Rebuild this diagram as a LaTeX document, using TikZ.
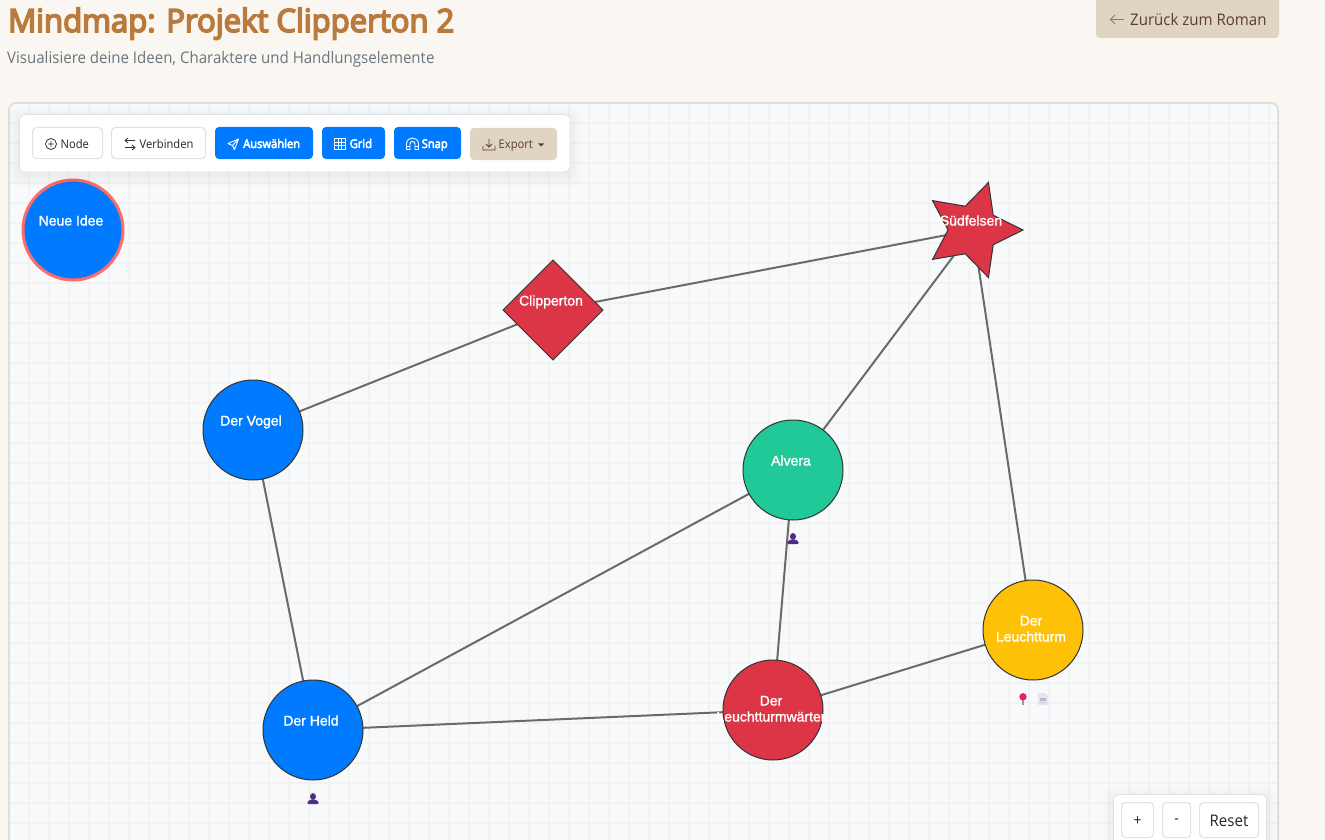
\documentclass[tikz,border=0pt]{standalone}
\usepackage{fontspec}
\setmainfont{Liberation Sans}
\newfontfamily\uifont[FakeStretch=0.93]{Open Sans}
\newfontfamily\uibold[FakeStretch=0.93,FakeBold=4]{Open Sans}
\newfontfamily\headfont[FakeStretch=0.94]{Open Sans}
\newfontfamily\titlefont[FakeStretch=0.97,FakeBold=5]{Open Sans}
\newfontfamily\labfont[FakeBold=1.5]{Liberation Sans}
\usetikzlibrary{shapes.geometric}
\definecolor{pagebg}{HTML}{FAF6F1}
\definecolor{panelbg}{HTML}{F8F9FA}
\definecolor{panelline}{HTML}{DEDEDC}
\definecolor{gridc}{HTML}{F1F2F2}
\definecolor{tan}{HTML}{E0D5C3}
\definecolor{brownt}{HTML}{5C3D2E}
\definecolor{titlec}{HTML}{B97A3C}
\definecolor{subc}{HTML}{6C757D}
\definecolor{bsblue}{HTML}{007BFF}
\definecolor{bsred}{HTML}{DC3545}
\definecolor{bsgreen}{HTML}{20C997}
\definecolor{bsyellow}{HTML}{FFC107}
\definecolor{edgec}{HTML}{6A6A6A}
\definecolor{nodeline}{HTML}{333333}
\definecolor{hilite}{HTML}{FF6B6B}
\definecolor{btnline}{HTML}{DEE2E6}
\definecolor{purp}{HTML}{4F2D87}
\definecolor{pinc}{HTML}{E91E63}
\definecolor{notec}{HTML}{E8E2F0}
\definecolor{notel}{HTML}{BFB8C8}
\definecolor{notem}{HTML}{CFC8D8}
\pgfdeclarelayer{gridlayer}
\pgfdeclarelayer{edgelayer}
\pgfsetlayers{gridlayer,edgelayer,main}
\tikzset{
  x=1pt,y=-1pt,
  circ/.style={circle,draw=nodeline,line width=1pt,minimum size=100pt,inner sep=0pt,outer sep=0pt},
  dia/.style={diamond,draw=nodeline,line width=1pt,fill=bsred,aspect=1,minimum size=100pt,inner sep=0pt,outer sep=0pt},
  starshape/.style={star,star points=5,star point ratio=2,shape border rotate=-90,draw=nodeline,line width=1pt,fill=bsred,minimum size=100pt,inner sep=0pt,outer sep=0pt},
  lab/.style={font=\labfont\fontsize{14}{16}\selectfont,text=white,align=center,inner sep=0pt,text height=10pt,text depth=3pt},
  edge/.style={draw=edgec,line width=2pt},
  btn/.style={draw=btnline,line width=1pt,fill=white,rounded corners=4pt},
  bluebtn/.style={fill=bsblue,rounded corners=4pt},
  tanbtn/.style={fill=tan,rounded corners=4pt},
  btxt/.style={font=\uifont\fontsize{12}{14}\selectfont,inner sep=0pt,anchor=base west,text=black!85},
  wtxt/.style={font=\uibold\fontsize{12}{14}\selectfont,inner sep=0pt,anchor=base west,text=white},
  ico/.style={line width=0.8pt,draw=black!80},
  wico/.style={line width=0.9pt,draw=white},
  softshadow/.style={fill=black,opacity=0.005,rounded corners=8pt},
}
\begin{document}
\begin{tikzpicture}
\useasboundingbox (0,0) rectangle (1325,840);
\begin{pgfonlayer}{gridlayer}
\fill[pagebg] (0,0) rectangle (1325,840);
% panel
\fill[panelline,rounded corners=8pt] (8,860) -- (8,102) -- (1279,102) -- (1279,860) -- cycle;
\fill[panelbg,rounded corners=6pt] (10,860) -- (10,104) -- (1277,104) -- (1277,860) -- cycle;
\foreach \x in {29,49,...,1269} \draw[gridc,line width=1.6pt] (\x,104) -- (\x,840);
\foreach \y in {123,143,...,840} \draw[gridc,line width=1.6pt] (10,\y) -- (1277,\y);
\end{pgfonlayer}

% header
\node[font=\titlefont\fontsize{32}{36}\selectfont,text=titlec,anchor=base west,inner sep=0pt] (title) at (8,32) {Mindmap: Projekt Clipperton 2};
\node[font=\headfont\fontsize{16}{18}\selectfont,text=subc,anchor=base west,inner sep=0pt] (subtitle) at (7,64) {Visualisiere deine Ideen, Charaktere und Handlungselemente};
\fill[tanbtn] (1096,-6) rectangle (1279,38);
\draw[brownt!70,line width=0.9pt] (1124,19.5) -- (1110.5,19.5) (1115,15) -- (1110.5,19.5) -- (1115,24);
\node[font=\headfont\fontsize{16}{18}\selectfont,text=brownt,anchor=base west,inner sep=0pt] (back) at (1130,25.5) {Zurück zum Roman};

% nodes
\node[circle,fill=bsblue,draw=hilite,line width=3pt,minimum size=100pt,inner sep=0pt,outer sep=0pt] (neu) at (73,230) {};
\node[circ,fill=bsblue] (vogel) at (253,430) {};
\node[circ,fill=bsblue] (held) at (313,730) {};
\node[circ,fill=bsgreen] (alvera) at (793,470) {};
\node[circ,fill=bsred] (waerter) at (773,710) {};
\node[circ,fill=bsyellow] (turm) at (1033,630) {};
\node[dia] (clip) at (553,310) {};
\node[starshape] (sued) at (973,230) {};

\begin{pgfonlayer}{edgelayer}
\draw[edge] (vogel) -- (clip);
\draw[edge] (clip) -- (sued);
\draw[edge] (alvera) -- (sued);
\draw[edge] (turm) -- (sued);
\draw[edge] (vogel) -- (held);
\draw[edge] (held) -- (alvera);
\draw[edge] (alvera) -- (waerter);
\draw[edge] (held) -- (waerter);
\draw[edge] (waerter) -- (turm);
\end{pgfonlayer}

% labels
\node[lab] (tneu) at (71,222) {Neue Idee};
\node[lab] (tvogel) at (251,422) {Der Vogel};
\node[lab] (theld) at (311,722) {Der Held};
\node[lab] (talv) at (791,462) {Alvera};
\node[lab] (tclip) at (551,302) {Clipperton};
\node[lab] (tsued) at (971,222) {Südfelsen};
\node[lab] (twaer) at (771,718) {Der\\Leuchtturmwärter};
\node[lab] (tturm) at (1031,638) {Der\\Leuchtturm};

% person icons
\foreach \px/\py in {793/539,313/799}{
  \fill[purp] (\px,\py-2.5) ellipse (3 and 3.4);
  \fill[purp,rounded corners=1pt] (\px-5.5,\py+5) -- (\px-5.5,\py+2.5) -- (\px-2,\py+0.5) -- (\px+2,\py+0.5) -- (\px+5.5,\py+2.5) -- (\px+5.5,\py+5) -- cycle;
}
% pin and note
\fill[black!40] (1022.2,700) rectangle (1023.8,705);
\fill[pinc] (1023,696.8) circle (3.7);
\fill[notec] (1038,693) -- (1045,693) -- (1048,696) -- (1048,705) -- (1038,705) -- cycle;
\fill[notel] (1040,697.5) rectangle (1046,700.5);
\draw[notem,line width=.7pt] (1040,702.5) -- (1046,702.5);

% toolbar
\foreach \o in {1,...,12}{
  \fill[softshadow] (20-\o,115-\o+3) rectangle (570+\o,172+\o+3);
}
\fill[white,draw=btnline,line width=.6pt,rounded corners=6pt] (19.5,114.5) rectangle (570,172);
\draw[btn] (32.5,127.5) rectangle (102.5,158.5);
\draw[btn] (111.5,127.5) rectangle (205.5,158.5);
\fill[bluebtn] (215,127) rectangle (313,159);
\fill[bluebtn] (322,127) rectangle (385,159);
\fill[bluebtn] (394,127) rectangle (461,159);
\fill[tanbtn] (470,128) rectangle (557,160);
% icon: plus circle
\draw[ico] (51,144) circle (5.5) (51,141) -- (51,147) (48,144) -- (54,144);
\node[btxt] (bnode) at (60.5,148.5) {Node};
% icon: arrows
\draw[ico] (135,140.5) -- (125,140.5) (128,138) -- (125,140.5) -- (128,143);
\draw[ico] (125,147.5) -- (135,147.5) (132,145) -- (135,147.5) -- (132,150);
\node[btxt] (bverb) at (139.5,148.5) {Verbinden};
% icon: plane
\draw[wico,line join=round] (238.5,139) -- (228,143.5) -- (232.5,145.5) -- (234.5,149.5) -- cycle (238.5,139) -- (232.5,145.5);
\node[wtxt] (baus) at (243,148) {Auswählen};
% icon: grid
\draw[wico,line width=.8pt] (334.5,138.5) rectangle (345.5,149.5) (338.2,138.5) -- (338.2,149.5) (341.8,138.5) -- (341.8,149.5) (334.5,142.2) -- (345.5,142.2) (334.5,145.8) -- (345.5,145.8);
\node[wtxt] (bgrid) at (349.5,148) {Grid};
% icon: magnet
\draw[wico] (406.5,149.5) -- (406.5,144) .. controls (406.5,136) and (418.5,136) .. (418.5,144) -- (418.5,149.5) -- (415,149.5) -- (415,144) .. controls (415,140.5) and (410,140.5) .. (410,144) -- (410,149.5) -- cycle;
\draw[wico,line width=.7pt] (406.5,146.5) -- (410,146.5) (415,146.5) -- (418.5,146.5);
\node[wtxt] (bsnap) at (421.5,148) {Snap};
% icon: download
\draw[brownt,line width=.8pt] (483,146) -- (483,150) -- (495,150) -- (495,146) (489,139) -- (489,147) (486,144) -- (489,147) -- (492,144);
\node[btxt,text=brownt] (bexp) at (498.5,149) {Export};
\fill[brownt] (538,143.5) -- (544,143.5) -- (541,146.5) -- cycle;

% zoom controls
\foreach \o in {1,...,10}{
  \fill[softshadow] (1113-\o,794-\o+3) rectangle (1266+\o,860);
}
\fill[white,draw=btnline,line width=.6pt,rounded corners=6pt] (1113.5,794.5) rectangle (1266.5,860);
\draw[btn] (1121.5,802.5) rectangle (1153.5,837.5);
\draw[btn] (1162.5,802.5) rectangle (1190.5,837.5);
\draw[btn] (1199.5,802.5) rectangle (1258.5,837.5);
\node[font=\uifont\fontsize{15}{18}\selectfont,text=black!85,inner sep=0pt] (zplus) at (1137.5,821) {+};
\node[font=\uifont\fontsize{15}{18}\selectfont,text=black!85,inner sep=0pt] (zminus) at (1176.5,821.5) {-};
\node[font=\headfont\fontsize{16}{18}\selectfont,text=black!85,inner sep=0pt] (zreset) at (1229,821) {Reset};
\end{tikzpicture}
\end{document}
